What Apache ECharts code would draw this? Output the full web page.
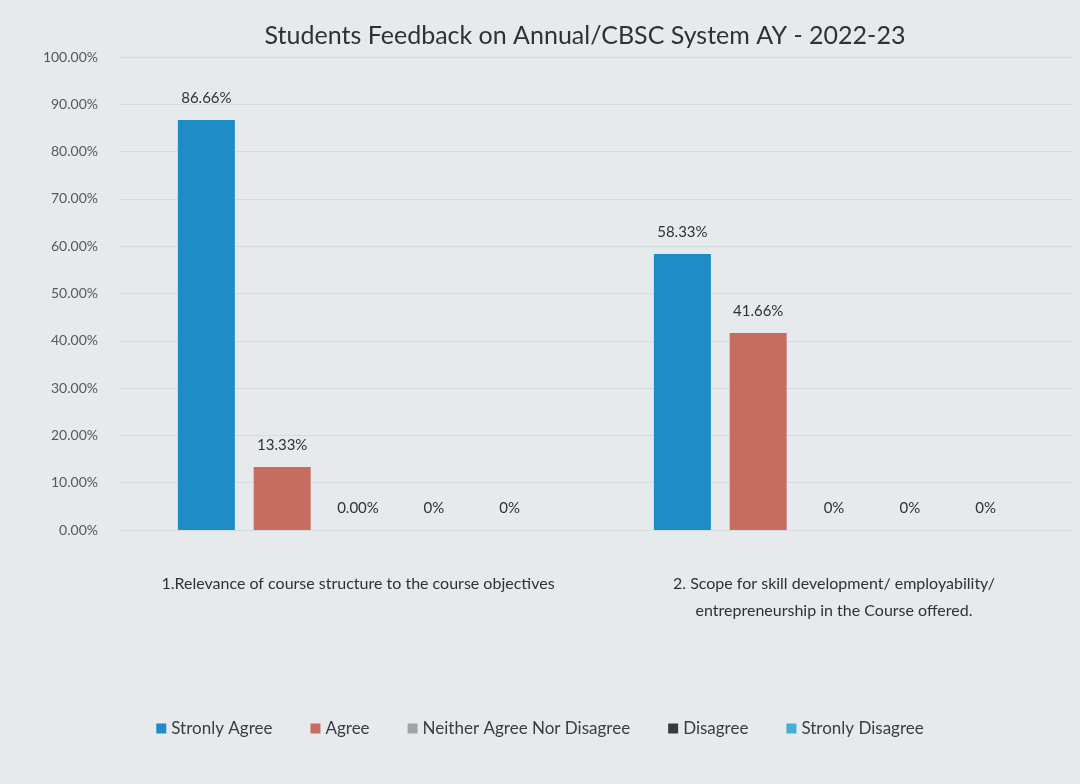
<!DOCTYPE html>
<html><head><meta charset="utf-8">
<script src="https://cdn.jsdelivr.net/npm/echarts@6/dist/echarts.min.js"></script>
<style>html,body{margin:0;padding:0;background:#e6eaec;}#c{width:1080px;height:784px;}</style>
</head><body><div id="c"></div>
<script>
const categories = ["1.Relevance of course structure to the course objectives", "2. Scope for skill development/ employability/\nentrepreneurship in the Course offered."];
const seriesNames = ["Stronly Agree", "Agree", "Neither Agree Nor Disagree", "Disagree", "Stronly Disagree"];
const stronglyAgree = [86.66, 58.33];
const agree = [13.33, 41.66];
const neither = [0, 0];
const disagree = [0, 0];
const stronglyDisagree = [0, 0];
const labelTexts = [["86.66%", "58.33%"], ["13.33%", "41.66%"], ["0.00%", "0%"], ["0%", "0%"], ["0%", "0%"]];
const colors = ["#1e8dc6", "#c76c60", "#a0a4a6", "#3a3a3a", "#45aed3"];

const values = [stronglyAgree, agree, neither, disagree, stronglyDisagree];
const chart = echarts.init(document.getElementById('c'));
chart.setOption({
  backgroundColor: '#e6eaec',
  textStyle: { fontFamily: 'Lato, "Open Sans", sans-serif' },
  title: { text: 'Students Feedback on Annual/CBSC System AY - 2022-23', left: 580, top: 18, textAlign: 'center',
    textStyle: { fontSize: 25, fontWeight: 'normal', color: '#2e3236', fontFamily: 'Lato, sans-serif' } },
  color: colors,
  legend: { bottom: 42, left: 'center', itemWidth: 10, itemHeight: 10, itemGap: 38, icon: 'rect',
    textStyle: { fontSize: 17, color: '#3a3d40' }, data: seriesNames },
  grid: { left: 120, right: 8, top: 57, bottom: 254 },
  xAxis: { type: 'category', data: categories,
    axisLine: { show: false }, axisTick: { show: false },
    axisLabel: { interval: 0, fontSize: 16, color: '#2e3236', margin: 40, lineHeight: 27, align: 'center' } },
  yAxis: { type: 'value', min: 0, max: 100, interval: 10,
    axisLabel: { formatter: v => v.toFixed(2) + '%', fontSize: 14, color: '#55595c', margin: 22 },
    splitLine: { lineStyle: { color: '#d6dbde', width: 1 } },
    axisLine: { show: false }, axisTick: { show: false } },
  series: seriesNames.map((n, i) => ({
    name: n, type: 'bar', data: values[i], barWidth: 57, barGap: '33%',
    itemStyle: { color: colors[i] },
    label: { show: true, position: 'top', distance: 14, fontSize: 15, color: '#2e3236',
      formatter: p => labelTexts[i][p.dataIndex] }
  }))
});
</script></body></html>
